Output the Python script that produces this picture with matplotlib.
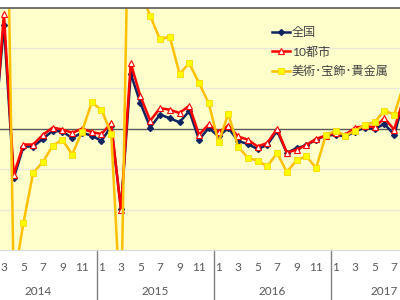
import numpy as np
import matplotlib
matplotlib.use('Agg')
import matplotlib.pyplot as plt
from matplotlib.transforms import blended_transform_factory

plt.rcParams['font.family'] = ['Lato', 'Noto Sans CJK JP', 'DejaVu Sans']

# year-on-year change (%), Feb 2014 .. Aug 2017
zenkoku = [-2.0, 25.7, -12.3, -4.4, -4.4, -2.5, -0.5, -0.7, -2.3, -1.0, -1.7,
           -3.0, 0.6, -19.8, 13.6, 6.3, 0.3, 3.5, 2.6, 1.6, 4.4, -2.7, 0.2,
           -1.9, 0.2, -3.0, -3.8, -5.0, -4.0, -0.5, -6.0, -4.8, -4.1, -2.7,
           -1.7, -1.5, -1.9, -0.7, 0.3, -0.1, 1.2, -1.5, 7.0]
toshi10 = [-2.5, 28.4, -11.4, -3.9, -3.9, -1.5, 0.3, -0.2, -1.0, 0.0, -0.8,
           -1.3, 1.4, -20.2, 16.2, 8.0, 2.0, 5.1, 4.7, 3.9, 5.7, -1.5, 1.1,
           -0.9, 0.8, -1.9, -2.7, -4.4, -3.5, 0.0, -5.9, -5.2, -4.0, -2.5,
           -1.7, -1.1, -1.5, 0.3, 0.6, 0.4, 2.6, -0.2, 7.7]
bijutsu = [10.0, 109.0, -38.0, -23.3, -10.9, -8.2, -4.2, -2.7, -6.4, -0.7, 6.5,
           4.7, -1.2, -47.0, 88.0, 34.0, 27.9, 22.1, 22.8, 13.6, 16.2, 11.3, 6.3,
           -3.4, 3.7, -4.4, -7.2, -7.9, -9.3, -6.0, -10.7, -7.8, -6.8, -9.7,
           -1.6, -0.5, -1.7, -0.5, 1.0, 1.6, 4.5, 3.5, 11.0]
labels = ['全国', '10都市', '美術･宝飾･貴金属']
years = [2014, 2015, 2016, 2017]
months_in_year = [12, 12, 12, 11]

# months counted from Jan 2014 = 0
x = np.arange(1, 1 + len(zenkoku))

fig = plt.figure(figsize=(4, 3), dpi=100)
ax = fig.add_axes([0, 50 / 300, 1, 242.5 / 300])
ax.set_facecolor('#FFFFCC')

ax.plot(x, zenkoku, color='#0F2460', lw=1.8, marker='D', ms=3,
        mfc='#0F2460', mec='#0F2460', label=labels[0])
ax.plot(x, toshi10, color='#FF0000', lw=1.8, marker='^', ms=4.5,
        mfc='white', mec='#FF0000', mew=0.8, label=labels[1])
ax.plot(x, bijutsu, color='#FFC000', lw=1.8, marker='s', ms=4,
        mfc='#FFFF00', mec='#FFD700', mew=0.6, label=labels[2])

ax.set_yticks([-20, -10, 10, 20])
ax.yaxis.grid(True, color='#E8E8DA', lw=1)
ax.set_axisbelow(True)
ax.axhline(0, color='#595959', lw=1, zorder=1.5)
ax.tick_params(axis='y', left=False, labelleft=False)

for s in ['left', 'right']:
    ax.spines[s].set_visible(False)
ax.spines['top'].set_color('#595959')
ax.spines['top'].set_linewidth(1.2)
ax.spines['bottom'].set_color('#D9D9D9')
ax.spines['bottom'].set_linewidth(0.8)

# month ticks
ticks = []
ticklabels = []
for i, y in enumerate(years):
    for mo in range(1, 13, 2):
        ticks.append(i * 12 + mo - 1)
        ticklabels.append(str(mo))
ax.set_xticks(ticks)
ax.set_xticklabels(ticklabels, fontsize=8.5, color='#595959')
ax.tick_params(axis='x', length=0, pad=8.5)

# year labels and separators
tr = blended_transform_factory(ax.transData, ax.transAxes)
for i, y in enumerate(years):
    center = i * 12 + (months_in_year[i] - 1) / 2
    ax.text(center, -0.173, str(y), transform=tr, ha='center', va='center',
            fontsize=8.5, color='#595959')
    if i > 0:
        ax.plot([i * 12 - 0.5] * 2, [0, -0.21], transform=tr, color='#808080',
                lw=1, clip_on=False)

ax.set_ylim(-30, 30)
ax.set_xlim(1.6, 42.6)

ax.legend(loc='upper left', bbox_to_anchor=(0.652, 0.965), frameon=False,
          fontsize=8.7, handlelength=1.5, handletextpad=0.15, labelspacing=0.7,
          borderpad=0.4, labelcolor='#404040')

fig.savefig('out.png', dpi=100)
